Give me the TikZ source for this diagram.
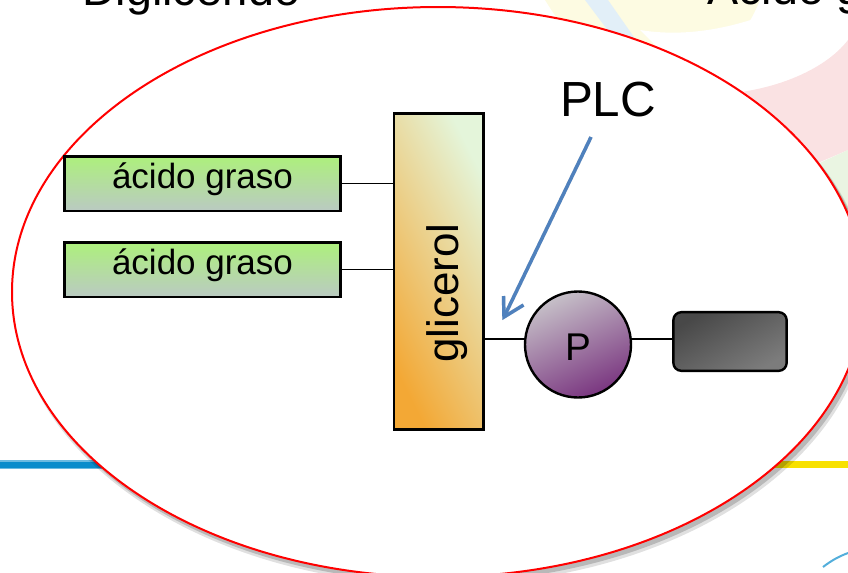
\documentclass[tikz,border=0pt]{standalone}
\usepackage{fontspec}
\setmainfont{Liberation Sans}
\usetikzlibrary{arrows.meta,shadings}
\definecolor{ellred}{HTML}{FF0000}
\definecolor{fagtop}{HTML}{ADF07C}
\definecolor{fagbot}{HTML}{BACAC2}
\definecolor{glicor}{HTML}{F3A835}
\definecolor{glicpa}{HTML}{E4F5DA}
\definecolor{plight}{HTML}{C6C0C8}
\definecolor{pdark}{HTML}{7A3680}
\definecolor{taildark}{HTML}{484848}
\definecolor{taillight}{HTML}{7C7C7C}
\definecolor{arrowblue}{HTML}{4F81BD}
\definecolor{lineblue}{HTML}{0A8CCB}
\definecolor{lineyellow}{HTML}{F8E100}
\definecolor{bgyellow}{HTML}{FDFBE2}
\definecolor{bgblue}{HTML}{E2EFF8}
\definecolor{bgpink}{HTML}{FAE2E3}
\definecolor{bggreen}{HTML}{EAF5E2}
\begin{document}
\begin{tikzpicture}[x=0.75pt,y=-0.75pt,
  fabox/.style={draw=black, line width=2pt, top color=fagtop, bottom color=fagbot,
    minimum width=207pt, minimum height=41pt, inner sep=0pt,
    font=\fontsize{26.25pt}{30pt}\selectfont, text height=20pt, text depth=11.8pt},
  glicbox/.style={draw=black, line width=2pt, top color=glicpa, bottom color=glicor, shading angle=-63,
    minimum width=67pt, minimum height=237pt, inner sep=0pt},
  pcircle/.style={circle, draw=black, line width=1.8pt, top color=plight, bottom color=pdark, shading angle=25,
    minimum size=79.5pt, inner sep=0pt, font=\fontsize{29pt}{32pt}\selectfont, text height=24.5pt, text depth=0pt},
  tailbox/.style={draw=black, line width=1.8pt, rounded corners=6pt, top color=taildark, bottom color=taillight, shading angle=30,
    minimum width=85pt, minimum height=44pt, inner sep=0pt},
  bond/.style={draw=black, line width=1.2pt},
  bigtext/.style={font=\fontsize{35pt}{40pt}\selectfont, inner sep=0pt},
  plcarrow/.style={line width=2.6pt, line join=miter}
]
\useasboundingbox (0,0) rectangle (848,572);
\clip (0,0) rectangle (848,572);
% faint background
\fill[bgyellow] (545,0) -- (760,0) .. controls (740,50) and (700,80) .. (640,90) .. controls (600,80) and (570,40) .. cycle;
\fill[white] (640,30) .. controls (700,40) and (760,20) .. (800,0) -- (848,0) -- (848,40) .. controls (800,90) and (740,95) .. (690,80) -- cycle;
\fill[bgblue] (585,0) -- (608,0) -- (650,60) -- (630,60) -- cycle;
\fill[bgpink] (700,95) .. controls (770,95) and (825,70) .. (848,40) -- (848,150) -- (790,175) -- cycle;
\fill[bggreen] (848,150) -- (815,165) -- (848,230) -- cycle;
\fill[lineblue!60] (0,460) rectangle (130,469);
\fill[lineblue] (0,461.5) rectangle (130,467.5);
\fill[lineyellow] (760,461) rectangle (848,468);
\draw[lineblue!70, line width=1.5pt] (823,567) .. controls (832,560) and (840,556) .. (848,553);
% top labels (cut off)
\node[bigtext, anchor=base west] (digl) at (82,5) {Diglicérido};
\node[bigtext, anchor=base west] (acid) at (707,4) {Ácido graso};
% cell
\fill[black, opacity=0.18] (441,296) ellipse [x radius=427, y radius=286];
\fill[black, opacity=0.12] (442,298) ellipse [x radius=428, y radius=287];
\draw[ellred, line width=1.5pt, fill=white] (438,292) ellipse [x radius=426, y radius=285];
% molecule
\node[glicbox] (glic) at (438.5,271.5) {};
\node[rotate=90, anchor=base, font=\fontsize{33pt}{36pt}\selectfont] (glictext) at (458,293) {glicerol};
\node[fabox] (fa1) at (202.5,183.5) {ácido graso};
\node[fabox] (fa2) at (202.5,269.5) {ácido graso};
\node[pcircle] (P) at (578,344.5) {P};
\node[tailbox] (tail) at (730,341.5) {};
\draw[bond] (fa1.east) -- (fa1.east -| glic.west);
\draw[bond] (fa2.east) -- (fa2.east -| glic.west);
\draw[bond] (P.174) -- (P.174 -| glic.east);
\draw[bond] (P.6) -- (P.6 -| tail.west);
% PLC
\node[font=\fontsize{37pt}{40pt}\selectfont, anchor=base, inner sep=0pt] (plc) at (608,116) {PLC};
\coordinate (plcA) at (591,137);
\coordinate (plcB) at (504,317);
\coordinate (barbA) at (503.5,296);
\coordinate (barbB) at (523.5,305);
\begin{scope}[shift={(2,2)}]
\draw[black, opacity=0.15, plcarrow] (plcA) -- (plcB);
\draw[black, opacity=0.15, plcarrow] (barbA) -- (plcB) -- (barbB);
\end{scope}
\draw[arrowblue, plcarrow] (plcA) -- (plcB);
\draw[arrowblue, plcarrow] (barbA) -- (plcB) -- (barbB);
\end{tikzpicture}
\end{document}
